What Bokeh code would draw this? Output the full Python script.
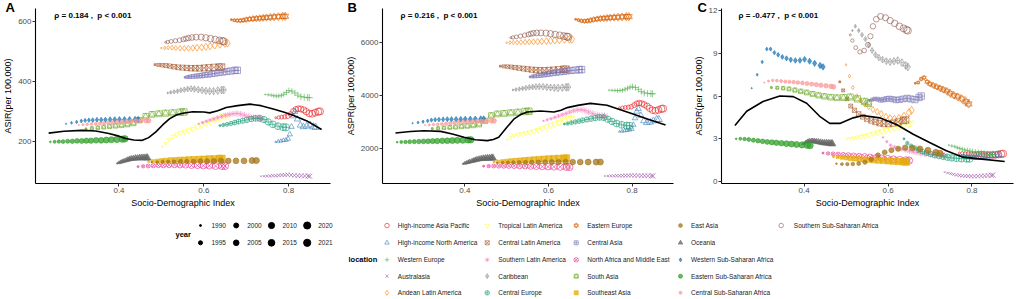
from bokeh.plotting import figure
from bokeh.layouts import column, row
from bokeh.models import Range1d, FixedTicker, Label, ColumnDataSource, Title
from bokeh.core.properties import value
from bokeh.embed import file_html
from bokeh.resources import INLINE

FONT = "Liberation Sans"

YEARS = [1990, 1992, 1994, 1996, 1998, 2000, 2002, 2004, 2006, 2008, 2010, 2012, 2014, 2016, 2018, 2020, 2021]
YEAR_BREAKS = [1990, 1995, 2000, 2005, 2010, 2015, 2020, 2021]

# ---------------- data ----------------
HIAP_SDI = [0.770, 0.777, 0.784, 0.791, 0.798, 0.805, 0.811, 0.817, 0.823, 0.829, 0.836, 0.842, 0.849, 0.856, 0.863, 0.870, 0.874]
HIAP_ASIR = [280, 281, 282, 283, 285, 292, 302, 308, 310, 309, 306, 300, 294, 293, 297, 300, 301]
HIAP_ASPR = [3540, 3545, 3550, 3560, 3580, 3640, 3700, 3720, 3700, 3660, 3600, 3520, 3450, 3430, 3460, 3500, 3510]
HIAP_ASDR = [2.0, 1.98, 1.95, 1.93, 1.9, 1.9, 1.92, 1.93, 1.92, 1.9, 1.88, 1.87, 1.86, 1.87, 1.9, 1.93, 1.95]

HINA_SDI = [0.770, 0.776, 0.782, 0.788, 0.794, 0.799, 0.803, 0.807, 0.811, 0.815, 0.821, 0.828, 0.835, 0.843, 0.851, 0.859, 0.864]
HINA_ASIR = [200, 202, 203, 205, 206, 210, 225, 250, 285, 300, 275, 255, 250, 252, 256, 250, 248]
HINA_ASPR = [2650, 2660, 2680, 2700, 2720, 2750, 2900, 3150, 3400, 3500, 3250, 3050, 2980, 3000, 3050, 3100, 3100]
HINA_ASDR = [1.85, 1.8, 1.78, 1.75, 1.72, 1.7, 1.68, 1.67, 1.68, 1.7, 1.72, 1.75, 1.78, 1.8, 1.83, 1.86, 1.88]

WEU_SDI = [0.745, 0.752, 0.759, 0.765, 0.771, 0.777, 0.783, 0.789, 0.795, 0.801, 0.808, 0.815, 0.822, 0.829, 0.837, 0.845, 0.849]
WEU_ASIR = [357, 356, 355, 353, 352, 352, 354, 358, 364, 370, 368, 362, 355, 350, 348, 347, 346]
WEU_ASPR = [4200, 4195, 4190, 4185, 4190, 4200, 4230, 4270, 4310, 4330, 4300, 4230, 4150, 4100, 4080, 4070, 4065]
WEU_ASDR = [2.55, 2.5, 2.45, 2.38, 2.32, 2.27, 2.22, 2.18, 2.14, 2.1, 2.06, 2.02, 1.98, 1.95, 1.92, 1.9, 1.9]

AUS_SDI = [0.735, 0.742, 0.749, 0.756, 0.763, 0.770, 0.777, 0.784, 0.791, 0.798, 0.806, 0.814, 0.822, 0.830, 0.838, 0.846, 0.850]
AUS_ASIR = [86, 86, 87, 87, 88, 88, 89, 90, 90, 91, 90, 89, 88, 88, 87, 87, 86]
AUS_ASPR = [980, 982, 985, 988, 990, 992, 995, 998, 1000, 1002, 1000, 998, 995, 992, 990, 988, 986]
AUS_ASDR = [0.66, 0.6, 0.55, 0.5, 0.46, 0.43, 0.41, 0.39, 0.38, 0.37, 0.37, 0.38, 0.39, 0.4, 0.42, 0.44, 0.45]

ALA_SDI = [0.500, 0.508, 0.516, 0.525, 0.534, 0.544, 0.554, 0.564, 0.574, 0.584, 0.595, 0.605, 0.615, 0.626, 0.638, 0.650, 0.656]
ALA_ASIR = [511, 511, 512, 512, 511, 510, 510, 510, 511, 512, 513, 515, 517, 520, 523, 526, 527]
ALA_ASPR = [5980, 5985, 5990, 5995, 6000, 6005, 6010, 6015, 6020, 6030, 6040, 6055, 6070, 6085, 6100, 6110, 6110]
ALA_ASDR = [8.2, 7.4, 6.6, 6.0, 5.7, 5.45, 5.25, 5.05, 4.9, 4.75, 4.55, 4.45, 4.4, 4.45, 4.6, 4.85, 5.0]

TLA_SDI = [0.502, 0.510, 0.518, 0.527, 0.536, 0.545, 0.555, 0.565, 0.575, 0.585, 0.595, 0.605, 0.615, 0.626, 0.637, 0.648, 0.654]
TLA_ASIR = [184, 195, 208, 218, 225, 230, 234, 238, 243, 250, 256, 262, 268, 274, 280, 285, 287]
TLA_ASPR = [2350, 2420, 2490, 2530, 2560, 2590, 2620, 2660, 2700, 2760, 2820, 2880, 2940, 3000, 3070, 3130, 3160]
TLA_ASDR = [3.0, 3.02, 3.05, 3.1, 3.15, 3.2, 3.28, 3.36, 3.45, 3.52, 3.6, 3.68, 3.76, 3.85, 3.95, 4.05, 4.1]

CLA_SDI = [0.485, 0.493, 0.502, 0.511, 0.520, 0.530, 0.540, 0.550, 0.560, 0.570, 0.580, 0.590, 0.601, 0.612, 0.624, 0.636, 0.642]
CLA_ASIR = [456, 455, 454, 453, 451, 449, 447, 446, 445, 444, 444, 444, 445, 446, 447, 448, 448]
CLA_ASPR = [5100, 5095, 5085, 5070, 5050, 5030, 5010, 4990, 4970, 4955, 4945, 4940, 4945, 4955, 4970, 4985, 4990]
CLA_ASDR = [7.0, 6.4, 5.8, 5.3, 5.0, 4.75, 4.55, 4.4, 4.28, 4.18, 4.1, 4.05, 4.05, 4.1, 4.18, 4.28, 4.32]

SLA_SDI = [0.588, 0.597, 0.606, 0.615, 0.624, 0.633, 0.642, 0.651, 0.660, 0.669, 0.678, 0.687, 0.696, 0.706, 0.717, 0.728, 0.734]
SLA_ASIR = [260, 264, 268, 272, 276, 280, 284, 288, 291, 293, 294, 292, 288, 284, 281, 279, 278]
SLA_ASPR = [3050, 3090, 3130, 3180, 3230, 3280, 3330, 3380, 3430, 3460, 3470, 3440, 3380, 3320, 3270, 3240, 3230]
SLA_ASDR = [3.1, 2.8, 2.55, 2.42, 2.33, 2.26, 2.2, 2.14, 2.08, 2.03, 1.99, 1.95, 1.92, 1.89, 1.86, 1.83, 1.82]

CAR_SDI = [0.515, 0.522, 0.530, 0.538, 0.546, 0.554, 0.562, 0.570, 0.578, 0.587, 0.596, 0.605, 0.614, 0.623, 0.633, 0.642, 0.647]
CAR_ASIR = [362, 364, 366, 368, 371, 373, 375, 376, 375, 373, 371, 369, 368, 368, 370, 372, 372]
CAR_ASPR = [4210, 4225, 4245, 4265, 4285, 4305, 4320, 4330, 4335, 4330, 4315, 4300, 4290, 4285, 4295, 4310, 4315]
CAR_ASDR = [10.6, 10.9, 10.6, 10.3, 10.0, 9.6, 9.2, 8.9, 8.7, 8.55, 8.45, 8.4, 8.45, 8.5, 8.35, 8.15, 8.05]

CEU_SDI = [0.638, 0.646, 0.655, 0.664, 0.673, 0.682, 0.692, 0.702, 0.712, 0.722, 0.732, 0.742, 0.752, 0.763, 0.775, 0.787, 0.794]
CEU_ASIR = [254, 256, 258, 261, 264, 267, 270, 273, 276, 278, 278, 274, 266, 258, 252, 249, 248]
CEU_ASPR = [2930, 2950, 2980, 3010, 3040, 3070, 3100, 3130, 3160, 3180, 3170, 3110, 3030, 2950, 2900, 2870, 2865]
CEU_ASDR = [3.0, 2.7, 2.5, 2.35, 2.22, 2.1, 2.0, 1.92, 1.85, 1.8, 1.75, 1.7, 1.66, 1.63, 1.61, 1.6, 1.6]

EEU_SDI = [0.665, 0.672, 0.679, 0.686, 0.693, 0.700, 0.708, 0.716, 0.724, 0.732, 0.740, 0.748, 0.757, 0.766, 0.776, 0.786, 0.792]
EEU_ASIR = [605, 603, 602, 602, 603, 605, 607, 608, 609, 610, 611, 612, 613, 614, 615, 616, 616]
EEU_ASPR = [6860, 6830, 6800, 6790, 6800, 6820, 6850, 6870, 6890, 6900, 6910, 6920, 6930, 6940, 6950, 6960, 6960]
EEU_ASDR = [6.9, 6.95, 7.2, 7.3, 7.0, 6.85, 6.75, 6.65, 6.55, 6.45, 6.35, 6.2, 6.05, 5.95, 5.8, 5.6, 5.45]

CAS_SDI = [0.556, 0.562, 0.568, 0.575, 0.582, 0.589, 0.596, 0.603, 0.611, 0.619, 0.627, 0.636, 0.645, 0.654, 0.664, 0.674, 0.679]
CAS_ASIR = [414, 415, 416, 417, 418, 419, 420, 422, 423, 425, 427, 429, 431, 433, 435, 437, 437]
CAS_ASPR = [4700, 4715, 4730, 4745, 4760, 4780, 4800, 4820, 4840, 4860, 4880, 4900, 4920, 4940, 4955, 4970, 4975]
CAS_ASDR = [5.7, 5.75, 5.8, 5.78, 5.72, 5.75, 5.8, 5.82, 5.78, 5.72, 5.75, 5.8, 5.85, 5.8, 5.75, 5.9, 6.0]

NAME_SDI = [0.445, 0.457, 0.469, 0.481, 0.493, 0.505, 0.518, 0.531, 0.544, 0.557, 0.571, 0.585, 0.599, 0.613, 0.628, 0.643, 0.650]
NAME_ASIR = [118, 119, 120, 121, 122, 122, 123, 123, 123, 123, 122, 122, 121, 121, 120, 120, 120]
NAME_ASPR = [1350, 1352, 1355, 1358, 1360, 1360, 1358, 1355, 1350, 1345, 1340, 1335, 1330, 1328, 1325, 1322, 1320]
NAME_ASDR = [2.0, 1.97, 1.94, 1.91, 1.88, 1.85, 1.82, 1.79, 1.76, 1.72, 1.68, 1.64, 1.6, 1.56, 1.52, 1.49, 1.47]

SAS_SDI = [0.322, 0.336, 0.350, 0.364, 0.378, 0.392, 0.406, 0.420, 0.434, 0.448, 0.463, 0.478, 0.494, 0.510, 0.527, 0.544, 0.553]
SAS_ASIR = [243, 245, 247, 249, 251, 253, 255, 258, 262, 272, 285, 291, 293, 295, 296, 298, 299]
SAS_ASPR = [2760, 2775, 2790, 2805, 2820, 2840, 2860, 2885, 2920, 3050, 3250, 3310, 3330, 3350, 3370, 3400, 3410]
SAS_ASDR = [6.6, 6.58, 6.55, 6.5, 6.42, 6.33, 6.25, 6.15, 6.05, 5.98, 5.92, 5.88, 5.9, 5.93, 5.8, 5.62, 5.5]

SEA_SDI = [0.470, 0.480, 0.490, 0.500, 0.510, 0.521, 0.532, 0.543, 0.554, 0.565, 0.577, 0.589, 0.601, 0.613, 0.625, 0.637, 0.643]
SEA_ASIR = [135, 136, 137, 138, 139, 140, 140, 141, 141, 142, 142, 143, 143, 144, 144, 145, 145]
SEA_ASPR = [1510, 1520, 1530, 1540, 1550, 1560, 1570, 1580, 1590, 1600, 1610, 1620, 1630, 1640, 1645, 1650, 1655]
SEA_ASDR = [1.75, 1.72, 1.69, 1.66, 1.63, 1.6, 1.57, 1.55, 1.53, 1.5, 1.48, 1.46, 1.44, 1.42, 1.4, 1.38, 1.37]

EAS_SDI = [0.477, 0.490, 0.503, 0.516, 0.530, 0.545, 0.560, 0.576, 0.592, 0.608, 0.624, 0.641, 0.658, 0.676, 0.695, 0.714, 0.724]
EAS_ASIR = [133, 133, 134, 134, 134, 135, 135, 135, 136, 136, 136, 137, 137, 137, 137, 138, 138]
EAS_ASPR = [1480, 1482, 1485, 1488, 1490, 1492, 1495, 1498, 1500, 1502, 1505, 1505, 1505, 1505, 1505, 1505, 1505]
EAS_ASDR = [1.25, 1.22, 1.22, 1.23, 1.26, 1.35, 1.55, 1.85, 2.05, 2.2, 2.3, 2.38, 2.35, 2.3, 2.2, 2.05, 1.98]

OCE_SDI = [0.396, 0.400, 0.404, 0.408, 0.412, 0.417, 0.421, 0.425, 0.429, 0.434, 0.439, 0.444, 0.449, 0.454, 0.459, 0.464, 0.467]
OCE_ASIR = [129, 131, 133, 135, 137, 139, 141, 143, 144, 145, 146, 146, 147, 147, 147, 147, 147]
OCE_ASPR = [1440, 1460, 1480, 1500, 1520, 1540, 1560, 1580, 1600, 1615, 1630, 1640, 1645, 1650, 1652, 1655, 1655]
OCE_ASDR = [2.62, 2.68, 2.75, 2.82, 2.85, 2.85, 2.84, 2.82, 2.8, 2.78, 2.75, 2.72, 2.7, 2.7, 2.68, 2.66, 2.65]

WSSA_SDI = [0.275, 0.288, 0.300, 0.311, 0.320, 0.329, 0.338, 0.348, 0.358, 0.368, 0.379, 0.390, 0.401, 0.413, 0.425, 0.438, 0.445]
WSSA_ASIR = [260, 263, 266, 269, 271, 272, 272, 273, 273, 273, 274, 274, 274, 274, 274, 274, 274]
WSSA_ASPR = [2960, 2990, 3020, 3050, 3080, 3095, 3100, 3105, 3110, 3110, 3110, 3110, 3115, 3115, 3115, 3120, 3120]
WSSA_ASDR = [6.55, 7.5, 8.4, 9.3, 9.3, 9.05, 8.9, 8.75, 8.65, 8.55, 8.5, 8.5, 8.58, 8.45, 8.3, 8.15, 8.05]

ESSA_SDI = [0.238, 0.248, 0.258, 0.268, 0.279, 0.290, 0.301, 0.312, 0.323, 0.334, 0.346, 0.358, 0.370, 0.382, 0.395, 0.408, 0.414]
ESSA_ASIR = [200, 200, 201, 201, 202, 202, 203, 203, 204, 204, 205, 205, 206, 207, 208, 209, 210]
ESSA_ASPR = [2250, 2255, 2260, 2265, 2270, 2275, 2280, 2285, 2290, 2295, 2300, 2305, 2310, 2318, 2326, 2335, 2340]
ESSA_ASDR = [3.0, 3.0, 2.98, 2.95, 2.9, 2.86, 2.82, 2.78, 2.75, 2.72, 2.69, 2.66, 2.63, 2.6, 2.57, 2.54, 2.52]

CSSA_SDI = [0.305, 0.315, 0.325, 0.335, 0.345, 0.355, 0.365, 0.375, 0.385, 0.396, 0.407, 0.418, 0.429, 0.440, 0.452, 0.464, 0.470]
CSSA_ASIR = [256, 257, 258, 259, 260, 261, 262, 263, 264, 265, 266, 267, 268, 269, 270, 270, 270]
CSSA_ASPR = [2890, 2900, 2910, 2920, 2930, 2945, 2960, 2975, 2990, 3000, 3010, 3020, 3030, 3040, 3045, 3050, 3050]
CSSA_ASDR = [6.95, 7.05, 7.1, 7.08, 7.05, 7.02, 7.0, 6.98, 6.95, 6.92, 6.88, 6.84, 6.8, 6.76, 6.72, 6.68, 6.65]

SSSA_SDI = [0.510, 0.515, 0.523, 0.533, 0.543, 0.552, 0.558, 0.564, 0.572, 0.582, 0.594, 0.605, 0.616, 0.627, 0.637, 0.644, 0.647]
SSSA_ASIR = [530, 531, 533, 535, 537, 540, 542, 544, 546, 547, 547, 545, 542, 539, 536, 534, 533]
SSSA_ASPR = [6170, 6180, 6200, 6230, 6260, 6290, 6320, 6340, 6350, 6350, 6340, 6320, 6290, 6260, 6230, 6210, 6200]
SSSA_ASDR = [10.3, 9.9, 9.4, 9.1, 9.2, 9.6, 10.2, 10.9, 11.4, 11.6, 11.5, 11.3, 11.1, 10.9, 10.75, 10.65, 10.6]

# smoothed (loess) curves
LOESS_A_X = [0.234, 0.27, 0.313, 0.345, 0.376, 0.40, 0.416, 0.435, 0.455, 0.47, 0.487, 0.503, 0.519, 0.535, 0.55, 0.574, 0.60, 0.614, 0.633, 0.653, 0.68, 0.709, 0.735, 0.764, 0.79, 0.812, 0.845, 0.878]
LOESS_A_Y = [229, 235, 238, 236, 228, 219, 211, 206, 205, 214, 233, 256, 276, 289, 295, 300, 299, 296, 303, 314, 320, 325, 320, 309, 298, 287, 268, 241]
LOESS_B_X = [0.234, 0.27, 0.302, 0.342, 0.37, 0.398, 0.425, 0.454, 0.468, 0.481, 0.50, 0.517, 0.535, 0.549, 0.581, 0.613, 0.63, 0.645, 0.67, 0.70, 0.74, 0.77, 0.804, 0.84, 0.88]
LOESS_B_Y = [2594, 2650, 2680, 2656, 2560, 2434, 2340, 2308, 2350, 2434, 2800, 3113, 3300, 3384, 3421, 3384, 3450, 3547, 3630, 3707, 3633, 3480, 3299, 3100, 2891]
LOESS_C_X = [0.235, 0.263, 0.302, 0.342, 0.374, 0.406, 0.437, 0.461, 0.485, 0.517, 0.54, 0.58, 0.62, 0.66, 0.699, 0.739, 0.779, 0.818, 0.878]
LOESS_C_Y = [3.94, 4.93, 5.62, 6.0, 5.96, 5.5, 4.58, 4.08, 4.08, 4.47, 4.63, 4.47, 4.0, 3.32, 2.74, 2.16, 1.71, 1.59, 1.4]

RHO_TEXT = ["\u03c1 = 0.184 ,\u00a0\u00a0p < 0.001", "\u03c1 = 0.216 ,\u00a0\u00a0p < 0.001", "\u03c1 = -0.477 ,\u00a0\u00a0p < 0.001"]

LOCATIONS = [
    ("High-income Asia Pacific", HIAP_SDI, HIAP_ASIR, HIAP_ASPR, HIAP_ASDR),
    ("High-income North America", HINA_SDI, HINA_ASIR, HINA_ASPR, HINA_ASDR),
    ("Western Europe", WEU_SDI, WEU_ASIR, WEU_ASPR, WEU_ASDR),
    ("Australasia", AUS_SDI, AUS_ASIR, AUS_ASPR, AUS_ASDR),
    ("Andean Latin America", ALA_SDI, ALA_ASIR, ALA_ASPR, ALA_ASDR),
    ("Tropical Latin America", TLA_SDI, TLA_ASIR, TLA_ASPR, TLA_ASDR),
    ("Central Latin America", CLA_SDI, CLA_ASIR, CLA_ASPR, CLA_ASDR),
    ("Southern Latin America", SLA_SDI, SLA_ASIR, SLA_ASPR, SLA_ASDR),
    ("Caribbean", CAR_SDI, CAR_ASIR, CAR_ASPR, CAR_ASDR),
    ("Central Europe", CEU_SDI, CEU_ASIR, CEU_ASPR, CEU_ASDR),
    ("Eastern Europe", EEU_SDI, EEU_ASIR, EEU_ASPR, EEU_ASDR),
    ("Central Asia", CAS_SDI, CAS_ASIR, CAS_ASPR, CAS_ASDR),
    ("North Africa and Middle East", NAME_SDI, NAME_ASIR, NAME_ASPR, NAME_ASDR),
    ("South Asia", SAS_SDI, SAS_ASIR, SAS_ASPR, SAS_ASDR),
    ("Southeast Asia", SEA_SDI, SEA_ASIR, SEA_ASPR, SEA_ASDR),
    ("East Asia", EAS_SDI, EAS_ASIR, EAS_ASPR, EAS_ASDR),
    ("Oceania", OCE_SDI, OCE_ASIR, OCE_ASPR, OCE_ASDR),
    ("Western Sub-Saharan Africa", WSSA_SDI, WSSA_ASIR, WSSA_ASPR, WSSA_ASDR),
    ("Eastern Sub-Saharan Africa", ESSA_SDI, ESSA_ASIR, ESSA_ASPR, ESSA_ASDR),
    ("Central Sub-Saharan Africa", CSSA_SDI, CSSA_ASIR, CSSA_ASPR, CSSA_ASDR),
    ("Southern Sub-Saharan Africa", SSSA_SDI, SSSA_ASIR, SSSA_ASPR, SSSA_ASDR),
]

# ---------------- styles ----------------
# name: (colour, markers, filled, size factor)
STYLE = {
    "High-income Asia Pacific": ("#E41A1C", ["circle"], False, 1.0),
    "High-income North America": ("#377EB8", ["triangle"], False, 1.0),
    "Western Europe": ("#4DAF4A", ["cross"], False, 1.0),
    "Australasia": ("#984EA3", ["x"], False, 1.0),
    "Andean Latin America": ("#FF7F00", ["diamond"], False, 1.1),
    "Tropical Latin America": ("#FFFF33", ["inverted_triangle"], False, 1.0),
    "Central Latin America": ("#A65628", ["square_x"], False, 0.9),
    "Southern Latin America": ("#F781BF", ["asterisk"], False, 1.0),
    "Caribbean": ("#999999", ["diamond_cross"], False, 1.1),
    "Central Europe": ("#1B9E77", ["circle_cross"], False, 1.0),
    "Eastern Europe": ("#D95F02", ["triangle", "inverted_triangle"], False, 1.0),
    "Central Asia": ("#7570B3", ["square_cross"], False, 0.9),
    "North Africa and Middle East": ("#E7298A", ["circle_x"], False, 1.0),
    "South Asia": ("#66A61E", ["square", "triangle"], False, 0.9),
    "Southeast Asia": ("#E6AB02", ["square"], True, 0.9),
    "East Asia": ("#A6761D", ["circle"], True, 0.85),
    "Oceania": ("#666666", ["triangle"], True, 1.0),
    "Western Sub-Saharan Africa": ("#1F78B4", ["diamond"], True, 0.9),
    "Eastern Sub-Saharan Africa": ("#33A02C", ["circle"], True, 0.9),
    "Central Sub-Saharan Africa": ("#FB9A99", ["circle"], True, 0.65),
    "Southern Sub-Saharan Africa": ("#8C564B", ["circle"], False, 1.0),
}
ALPHA = 0.75


def year_size(y):
    # area-proportional size scale (as ggplot's scale_size)
    t = (y - 1990) / 31.0
    return 2.0 + 5.2 * t ** 0.5


FIG_H = 210
TOP, BOTTOM = 8, 25
X_RANGE = (0.203, 0.899)

PANELS = [
    # metric index, y label, y range, ticks, width, left border, right border, letter, letter x px, rho px
    (2, "ASIR(per 100,000)", (62, 642), [200, 400, 600], 340, 33, 10, "A", 3, (52, 11), LOESS_A_X, LOESS_A_Y),
    (3, "ASPR(per 100,000)", (700, 7265), [2000, 4000, 6000], 340, 42, 7, "B", 7, (60, 11), LOESS_B_X, LOESS_B_Y),
    (4, "ASDR(per 100,000)", (-0.14, 12.15), [0, 3, 6, 9, 12], 342, 41, 9, "C", 17, (58, 11), LOESS_C_X, LOESS_C_Y),
]


def letter_title(letter, offset):
    kw = dict(text=letter, align="left", offset=offset, vertical_align="bottom",
              text_font=FONT, text_font_size="13px", text_font_style="bold", text_color="black")
    try:
        # negative standoff keeps the title panel thinner than the top border
        return Title(standoff=-12, **kw)
    except Exception:
        return Title(standoff=0, **kw)


def make_panel(k, spec):
    mi, ylab, yr, yt, w, bl, br, letter, lpx, rpx, lx, ly = spec
    p = figure(width=w, height=FIG_H, x_range=Range1d(*X_RANGE), y_range=Range1d(*yr),
               output_backend="svg", toolbar_location=None,
               min_border_left=bl, min_border_right=br, min_border_top=TOP, min_border_bottom=BOTTOM)
    p.xgrid.visible = False
    p.ygrid.visible = False
    p.outline_line_color = None
    p.background_fill_color = "white"
    p.xaxis.ticker = FixedTicker(ticks=[0.4, 0.6, 0.8])
    p.yaxis.ticker = FixedTicker(ticks=yt)
    for ax in (p.xaxis, p.yaxis):
        ax.axis_line_color = "black"
        ax.axis_line_width = 1.1
        ax.major_tick_line_color = "#333333"
        ax.major_tick_out = 3
        ax.major_tick_in = 0
        ax.minor_tick_line_color = None
        ax.major_label_text_font = FONT
        ax.major_label_text_font_size = "8px"
        ax.major_label_text_color = "#4D4D4D"
        ax.major_label_standoff = 1
        ax.axis_label_text_font = FONT
        ax.axis_label_text_font_size = "9px"
        ax.axis_label_text_font_style = "normal"
        ax.axis_label_text_color = "black"
        ax.axis_label_standoff = 2
    p.xaxis.axis_label = "Socio-Demographic Index"
    p.yaxis.axis_label = ylab

    for loc in LOCATIONS:
        name = loc[0]
        col, markers, filled, fac = STYLE[name]
        src = ColumnDataSource(dict(x=loc[1], y=loc[mi], s=[year_size(y) * fac for y in YEARS]))
        for m in markers:
            p.scatter("x", "y", source=src, size="s", marker=m, line_color=col,
                      fill_color=col if filled else None, line_alpha=ALPHA,
                      fill_alpha=ALPHA if filled else 0, line_width=0.8)

    p.line(lx, ly, line_color="black", line_width=1.6)

    fw = w - bl - br
    fh = FIG_H - TOP - BOTTOM

    def dx(px):
        return X_RANGE[0] + (px - bl) / fw * (X_RANGE[1] - X_RANGE[0])

    def dy(py):
        return yr[1] - (py - TOP) / fh * (yr[1] - yr[0])

    p.add_layout(letter_title(letter, lpx - bl), "above")
    p.add_layout(Label(x=dx(rpx[0]), y=dy(rpx[1]), text=RHO_TEXT[k], text_font=FONT,
                       text_font_size="8px", text_font_style="bold", text_baseline="top",
                       text_align="left", text_color="black"))
    return p


panels = [make_panel(k, s) for k, s in enumerate(PANELS)]

# ---------------- legend area ----------------
LEG_H = 89
lg = figure(width=1022, height=LEG_H, x_range=Range1d(0, 1022), y_range=Range1d(LEG_H, 0),
            output_backend="svg", toolbar_location=None, x_axis_location=None, y_axis_location=None,
            min_border_left=0, min_border_right=0, min_border_top=0, min_border_bottom=0)
lg.xgrid.visible = False
lg.ygrid.visible = False
lg.outline_line_color = None

ROW_Y = [15, 32.3, 49.3, 65.7, 82.3]

# year (size) legend
YEAR_DOT_X = [200, 235.7, 271, 306.7]
yx, yy, ys, tx, ty, tt = [], [], [], [], [], []
for i, yb in enumerate(YEAR_BREAKS):
    c, r = i // 2, i % 2
    yx.append(YEAR_DOT_X[c])
    yy.append(ROW_Y[r])
    ys.append(year_size(yb))
    tx.append(YEAR_DOT_X[c] + 11)
    ty.append(ROW_Y[r])
    tt.append(str(yb))
lg.scatter(yx, yy, size=ys, marker="circle", color="black")
lg.text(tx, ty, text=tt, text_font=value(FONT), text_font_size="6.5px", text_baseline="middle",
        text_align="left", text_color="#222222")
lg.text([175], [23.5], text=["year"], text_font=value(FONT), text_font_size="7.5px",
        text_font_style="bold", text_baseline="middle", text_align="left", text_color="black")

# location legend
COL_MX = [386.5, 486.7, 575.7, 680, 780.7]
COL_TX = [397.3, 497.7, 586.7, 690.5, 793.3]
lg.text([348], [ROW_Y[2]], text=["location"], text_font=value(FONT), text_font_size="7.5px",
        text_font_style="bold", text_baseline="middle", text_align="left", text_color="black")
lt_x, lt_y, lt_t = [], [], []
for i, loc in enumerate(LOCATIONS):
    name = loc[0]
    c, r = i // 5, i % 5
    col, markers, filled, fac = STYLE[name]
    for m in markers:
        lg.scatter([COL_MX[c]], [ROW_Y[r]], size=4.5 * fac, marker=m, line_color=col,
                   fill_color=col if filled else None, line_alpha=ALPHA,
                   fill_alpha=ALPHA if filled else 0, line_width=0.8)
    lt_x.append(COL_TX[c])
    lt_y.append(ROW_Y[r])
    lt_t.append(name)
lg.text(lt_x, lt_y, text=lt_t, text_font=value(FONT), text_font_size="6.5px", text_baseline="middle",
        text_align="left", text_color="#222222")

layout = column(row(*panels, spacing=0), lg, spacing=0)
open("out.html", "w").write(file_html(layout, INLINE))
